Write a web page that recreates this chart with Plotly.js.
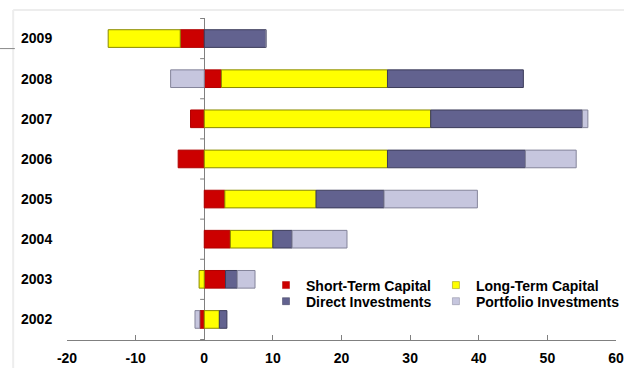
<!DOCTYPE html>
<html>
<head>
<meta charset="utf-8">
<script src="https://cdn.plot.ly/plotly-3.0.1.min.js"></script>
<style>html,body{margin:0;padding:0;background:#fff;}#chart{width:624px;height:368px;}</style>
</head>
<body>
<div id="chart"></div>
<script>
// Data (billions)
const years = ["2002", "2003", "2004", "2005", "2006", "2007", "2008", "2009"];
const shortTerm = [-0.65, 3.1, 3.8, 3.0, -3.8, -2.0, 2.5, -3.5];
const longTerm = [2.2, -0.75, 6.2, 13.3, 26.7, 33.0, 24.2, -10.5];
const directInv = [1.1, 1.7, 2.8, 9.9, 20.1, 22.1, 19.8, 9.0];
const portfolioInv = [-0.7, 2.6, 8.0, 13.6, 7.4, 0.8, -4.9, 0.0];
const seriesNames = ["Short-Term Capital", "Long-Term Capital", "Direct Investments", "Portfolio Investments"];
const xTicks = [-20, -10, 0, 10, 20, 30, 40, 50, 60];

const fills = ["#CC0000", "#FFFF00", "#62628F", "#C6C6DE"];
const edges = ["#B00000", "#8A8A00", "#3C3C5A", "#84849A"];
const values = [shortTerm, longTerm, directInv, portfolioInv];
const legendOf = ["legend", "legend2", "legend3", "legend4"];

const traces = [];
values.forEach((v, i) => {
  traces.push({
    type: "bar", orientation: "h", y: years, x: v, name: seriesNames[i],
    showlegend: false,
    marker: {color: fills[i], line: {color: edges[i], width: 1}},
    hoverinfo: "x+name"
  });
});
// legend entries with small square symbols
values.forEach((v, i) => {
  traces.push({
    type: "scatter", mode: "markers", x: [null], y: [null], name: seriesNames[i],
    legend: legendOf[i],
    marker: {symbol: "square", size: 7, color: fills[i], line: {color: edges[i], width: 0.5}},
    showlegend: true
  });
});

// small ticks on the zero line at category boundaries
const shapes = [];
for (let k = 0; k <= years.length; k++) {
  shapes.push({type: "line", xref: "x", yref: "y", x0: -0.6, x1: 0, y0: k - 0.5, y1: k - 0.5,
    line: {color: "#808080", width: 1}});
}
// outer frame lines
shapes.push({type: "line", xref: "paper", yref: "paper", x0: -0.098, x1: 1.02, y0: 1.025, y1: 1.025,
  line: {color: "#EDEDED", width: 2}});
shapes.push({type: "line", xref: "paper", yref: "paper", x0: -0.098, x1: -0.098, y0: -0.09, y1: 1.025,
  line: {color: "#EDEDED", width: 2}});
shapes.push({type: "line", xref: "paper", yref: "paper", x0: -0.122, x1: -0.095, y0: 0.905, y1: 0.905,
  line: {color: "#888888", width: 1}});

const font = {family: "Liberation Sans, Arial, sans-serif", size: 14, color: "#000"};
const legendFont = {family: font.family, size: 14, color: "#000", weight: "bold"};
const legendBase = {
  orientation: "v", yanchor: "top", xanchor: "left", tracegroupgap: 0,
  bgcolor: "rgba(0,0,0,0)", borderwidth: 0, font: legendFont, traceorder: "normal", itemwidth: 30
};

const layout = {
  width: 624, height: 368,
  margin: {l: 67, r: 8, t: 18, b: 28, autoexpand: false},
  paper_bgcolor: "#fff", plot_bgcolor: "#fff",
  barmode: "relative", bargap: 0.56,
  font: font,
  showlegend: true,
  legend: Object.assign({}, legendBase, {x: 0.3625, y: 0.219}),
  legend2: Object.assign({}, legendBase, {x: 0.672, y: 0.219}),
  legend3: Object.assign({}, legendBase, {x: 0.3625, y: 0.169}),
  legend4: Object.assign({}, legendBase, {x: 0.672, y: 0.169}),
  xaxis: {
    range: [-20, 60], tickvals: xTicks, ticktext: xTicks.map(String),
    showgrid: false, zeroline: true, zerolinecolor: "#808080", zerolinewidth: 1,
    showline: true, linecolor: "#808080", linewidth: 1,
    ticks: "inside", ticklen: 5, tickcolor: "#808080", ticklabelstandoff: 5,
    tickfont: {family: font.family, size: 14, color: "#000", weight: "bold"},
    fixedrange: true
  },
  yaxis: {
    type: "category", categoryorder: "array", categoryarray: years,
    showgrid: false, zeroline: false, showline: false,
    ticks: "outside", ticklen: 11, tickcolor: "rgba(0,0,0,0)",
    tickfont: {family: font.family, size: 14, color: "#000", weight: "bold"},
    fixedrange: true
  },
  shapes: shapes
};

Plotly.newPlot("chart", traces, layout, {displayModeBar: false, staticPlot: true});
</script>
</body>
</html>
